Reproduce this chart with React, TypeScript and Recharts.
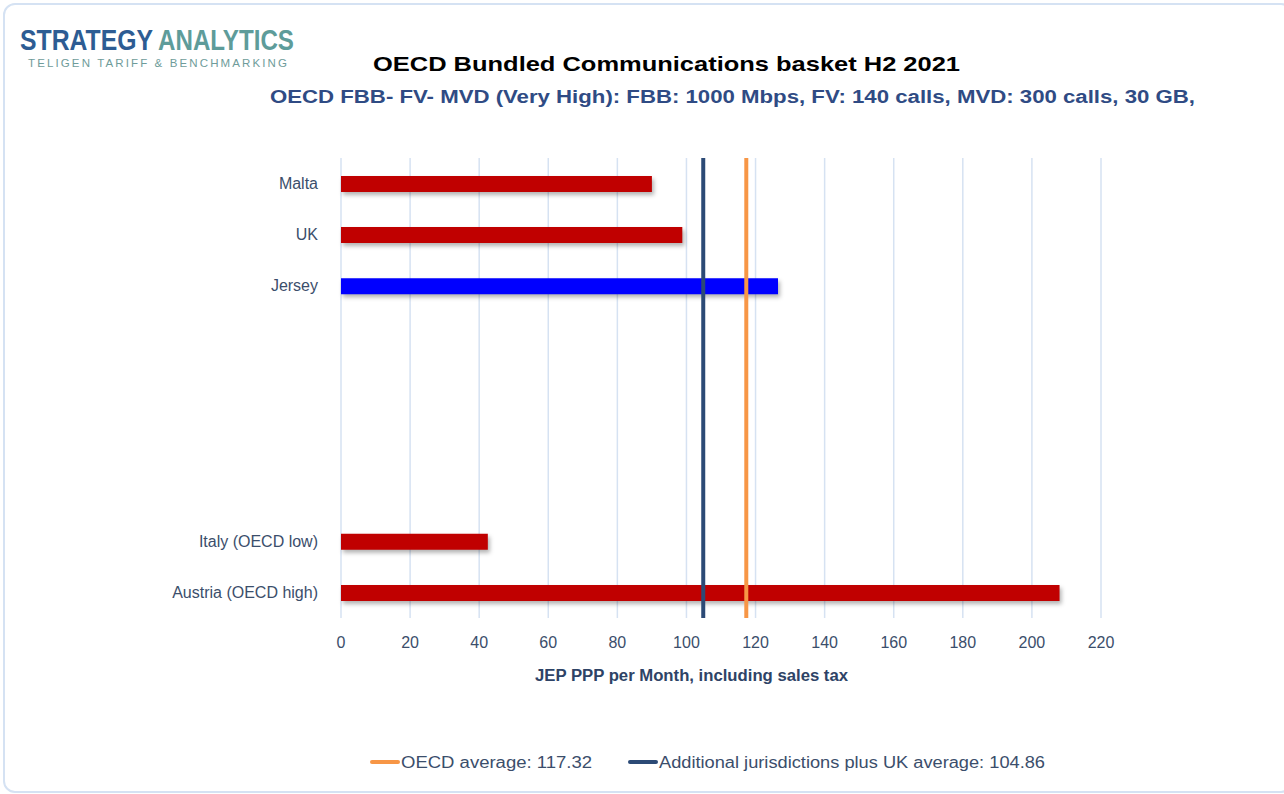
import React from "react";
import {
  BarChart,
  Bar,
  XAxis,
  YAxis,
  CartesianGrid,
  ReferenceLine,
  Cell,
  Rectangle,
} from "recharts";

// categories, top to bottom (empty slots are kept as gaps, like the original)
const categories = [
  "Malta",
  "UK",
  "Jersey",
  "",
  "",
  "",
  "",
  "Italy (OECD low)",
  "Austria (OECD high)",
];
const prices = [90, 98.8, 126.5, null, null, null, null, 42.5, 208];
const highlighted = "Jersey";
const xTicks = [0, 20, 40, 60, 80, 100, 120, 140, 160, 180, 200, 220];

const oecdAverage = 117.32;
const jurisdictionsAverage = 104.86;

const RED = "#C00000";
const BLUE = "#0000FF";
const ORANGE = "#F79646";
const NAVY = "#2C4A76";
const SLATE = "#3B4E6B";
const FONT = "'Liberation Sans', Arial, sans-serif";

const chartData = categories.map((name, i) => ({
  id: `c${i}`,
  name,
  value: prices[i],
}));

const App: React.FC = () => {
  return (
    <div
      style={{
        position: "absolute",
        left: 0,
        top: 0,
        width: 1284,
        height: 794,
        background: "#fff",
        fontFamily: FONT,
      }}
    >
      {/* card frame */}
      <div
        style={{
          position: "absolute",
          left: 3,
          top: 3,
          width: 1290,
          height: 790,
          border: "2px solid #D5E2F3",
          borderRadius: 12,
          boxSizing: "border-box",
        }}
      />

      <svg
        width={1284}
        height={794}
        style={{ position: "absolute", left: 0, top: 0 }}
      >
        {/* logo: narrow lettering, stretched vertically */}
        <g transform="translate(20,50) scale(1,1.2)">
          <text
            x={0}
            y={0}
            fontSize={24}
            fontWeight={600}
            fill="#2D5C93"
            fontFamily={FONT}
            textLength={133}
            lengthAdjust="spacingAndGlyphs"
          >
            STRATEGY
          </text>
          <text
            x={138}
            y={0}
            fontSize={24}
            fontWeight={600}
            fill="#5E9C9A"
            fontFamily={FONT}
            textLength={136}
            lengthAdjust="spacingAndGlyphs"
          >
            ANALYTICS
          </text>
        </g>
        <text
          x={28}
          y={67}
          fontSize={11.5}
          fill="#6F9C9A"
          fontFamily={FONT}
          textLength={259}
          lengthAdjust="spacing"
        >
          TELIGEN TARIFF &amp; BENCHMARKING
        </text>

        {/* titles */}
        <text
          x={373}
          y={71}
          fontSize={21}
          fontWeight="bold"
          fill="#000"
          fontFamily={FONT}
          textLength={587}
          lengthAdjust="spacingAndGlyphs"
        >
          OECD Bundled Communications basket H2 2021
        </text>
        <text
          x={270}
          y={103}
          fontSize={18}
          fontWeight="bold"
          fill="#2F4B84"
          fontFamily={FONT}
          textLength={925}
          lengthAdjust="spacingAndGlyphs"
        >
          OECD FBB- FV- MVD (Very High): FBB: 1000 Mbps, FV: 140 calls, MVD:
          300 calls, 30 GB,
        </text>

        {/* axis title */}
        <text
          x={535}
          y={681}
          fontSize={16}
          fontWeight="bold"
          fill="#2E4366"
          fontFamily={FONT}
          textLength={313}
          lengthAdjust="spacingAndGlyphs"
        >
          JEP PPP per Month, including sales tax
        </text>

        {/* legend */}
        <line x1={372} x2={398} y1={762} y2={762} stroke={ORANGE} strokeWidth={4} strokeLinecap="round" />
        <text
          x={401}
          y={768}
          fontSize={16}
          fill={SLATE}
          fontFamily={FONT}
          textLength={191}
          lengthAdjust="spacingAndGlyphs"
        >
          OECD average: 117.32
        </text>
        <line x1={630} x2={656} y1={762} y2={762} stroke={NAVY} strokeWidth={4} strokeLinecap="round" />
        <text
          x={659}
          y={768}
          fontSize={16}
          fill={SLATE}
          fontFamily={FONT}
          textLength={386}
          lengthAdjust="spacingAndGlyphs"
        >
          Additional jurisdictions plus UK average: 104.86
        </text>
      </svg>

      <div style={{ position: "absolute", left: 0, top: 0 }}>
        <BarChart
          width={1284}
          height={794}
          data={chartData}
          layout="vertical"
          margin={{ top: 158, right: 183, bottom: 0, left: 0 }}
        >
          <CartesianGrid
            horizontal={false}
            vertical={true}
            stroke="#D6E2F2"
            strokeWidth={1.5}
          />
          <XAxis
            type="number"
            domain={[0, 220]}
            ticks={xTicks}
            axisLine={false}
            tickLine={false}
            tickSize={0}
            tickMargin={19}
            height={176}
            tick={{ fontSize: 16, fill: SLATE, fontFamily: FONT }}
          />
          <YAxis
            type="category"
            dataKey="id"
            width={341}
            axisLine={false}
            tickLine={false}
            tickSize={0}
            tickMargin={23}
            interval={0}
            tickFormatter={(id: string) =>
              chartData.find((d) => d.id === id)?.name ?? ""
            }
            tick={{ fontSize: 16, fill: SLATE, fontFamily: FONT }}
          />
          <Bar
            dataKey="value"
            barSize={16}
            isAnimationActive={false}
            shape={(props: any) => (
              <Rectangle
                {...props}
                style={{ filter: "drop-shadow(2px 3px 2px rgba(0,0,0,0.3))" }}
              />
            )}
          >
            {chartData.map((d, i) => (
              <Cell key={`cell-${i}`} fill={d.name === highlighted ? BLUE : RED} />
            ))}
          </Bar>
          <ReferenceLine x={jurisdictionsAverage} stroke={NAVY} strokeWidth={4} />
          <ReferenceLine x={oecdAverage} stroke={ORANGE} strokeWidth={4} />
        </BarChart>
      </div>
    </div>
  );
};

export default App;
